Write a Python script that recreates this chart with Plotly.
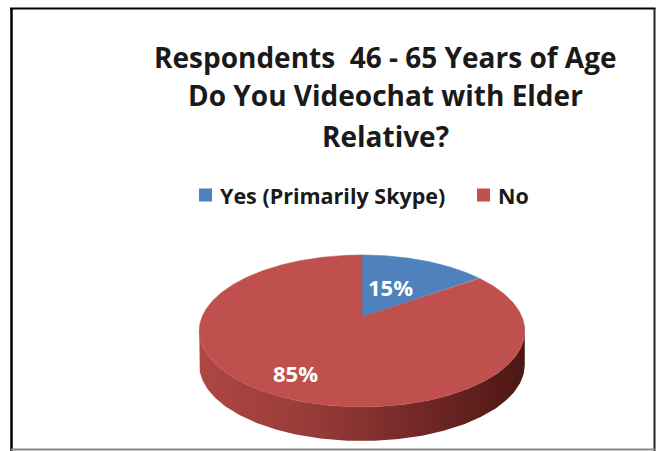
import numpy as np
import plotly.graph_objects as go

# ---- data ----
categories = ["Yes (Primarily Skype)", "No"]
shares = [15, 85]  # percent of respondents
slice_colors = ["#4F81BD", "#C0504D"]
title_lines = ["Respondents  46 - 65 Years of Age",
               "Do You Videochat with Elder",
               "Relative?"]

# ---- geometry of the tilted pie (pixel space) ----
W, H = 656, 451
CX, CY = 362.0, 317.0      # pie centre on screen
RX, RY = 160.0, 73.4       # horizontal / vertical radii
K = 0.184                  # perspective foreshortening
DEPTH = 34.0               # thickness of the pie
FONT = "Open Sans"


def project(theta_deg, r=1.0, drop=0.0):
    """Angle measured clockwise from 12 o'clock -> screen coordinates."""
    t = np.radians(theta_deg)
    u, v = r * np.sin(t), r * np.cos(t)
    s = 1 + K * v
    return CX + RX * u / s, CY - RY * v / s + drop


fig = go.Figure()

# side wall (front half of the rim, visible under the top face)
edge = np.degrees(np.arccos(-K))
th = np.linspace(edge, 360 - edge, 200)
tx, ty = project(th)
bx, by = project(th[::-1], drop=DEPTH)
fig.add_trace(go.Scatter(
    x=np.concatenate([tx, bx, tx[:1]]), y=np.concatenate([ty, by, ty[:1]]),
    mode="lines", fill="toself", line=dict(width=0),
    fillgradient=dict(type="horizontal",
                      colorscale=[[0, "#AE4744"], [0.35, "#973B38"],
                                  [0.75, "#6A2422"], [1, "#4C1715"]]),
    hoverinfo="skip", showlegend=False))

# top face slices, starting at 12 o'clock and going clockwise
total = float(sum(shares))
start = 0.0
label_r = [0.42, 0.8]
annotations = []
for i, (cat, val, col) in enumerate(zip(categories, shares, slice_colors)):
    span = 360.0 * val / total
    a = np.linspace(start, start + span, max(int(span), 2) * 2)
    ax, ay = project(a)
    fig.add_trace(go.Scatter(
        x=np.concatenate([[CX], ax, [CX]]), y=np.concatenate([[CY], ay, [CY]]),
        mode="lines", fill="toself", fillcolor=col,
        line=dict(width=0.6, color=col), name=cat,
        hoverinfo="skip", showlegend=False))
    lx, ly = project(start + span / 2, r=label_r[i])
    annotations.append(dict(
        x=float(lx), y=float(ly) - 4, xref="x", yref="y", showarrow=False,
        text=f"<b>{val}%</b>", font=dict(family=FONT, size=22, color="white"),
        xanchor="center", yanchor="middle"))
    start += span

# title, one line at a time
for line, yy in zip(title_lines, [57, 95, 136]):
    annotations.append(dict(
        x=385, y=yy, xref="x", yref="y", showarrow=False,
        text=f"<b>{line}</b>", font=dict(family=FONT, size=28, color="#1a1a1a"),
        xanchor="center", yanchor="middle"))

# legend: coloured squares followed by the category names
legend_x = [205.5, 483.5]
legend_y = 195
fig.add_trace(go.Scatter(
    x=legend_x, y=[legend_y] * len(categories), mode="markers",
    marker=dict(symbol="square", size=13, color=slice_colors, line=dict(width=0)),
    hoverinfo="skip", showlegend=False))
for cat, lx in zip(categories, legend_x):
    annotations.append(dict(
        x=lx + 12, y=legend_y, xref="x", yref="y", showarrow=False,
        text=f"<b>{cat}</b>", font=dict(family=FONT, size=21.5, color="#1a1a1a"),
        xanchor="left", yanchor="middle"))

# chart frame
shapes = [
    dict(type="line", x0=11.5, x1=11.5, y0=8, y1=451, line=dict(color="black", width=2.5)),
    dict(type="line", x0=10, x1=655.5, y0=8.5, y1=8.5, line=dict(color="black", width=2)),
    dict(type="line", x0=654.5, x1=654.5, y0=8, y1=451, line=dict(color="#222", width=2)),
    dict(type="line", x0=11, x1=656, y0=449.5, y1=449.5, line=dict(color="#8a8a8a", width=2)),
]
for s in shapes:
    s.update(xref="x", yref="y", layer="above")

fig.update_layout(
    width=W, height=H, margin=dict(l=0, r=0, t=0, b=0),
    paper_bgcolor="white", plot_bgcolor="white",
    xaxis=dict(range=[0, W], visible=False, fixedrange=True),
    yaxis=dict(range=[H, 0], visible=False, fixedrange=True),
    annotations=annotations, shapes=shapes, showlegend=False,
)

fig.write_html("out.html")
